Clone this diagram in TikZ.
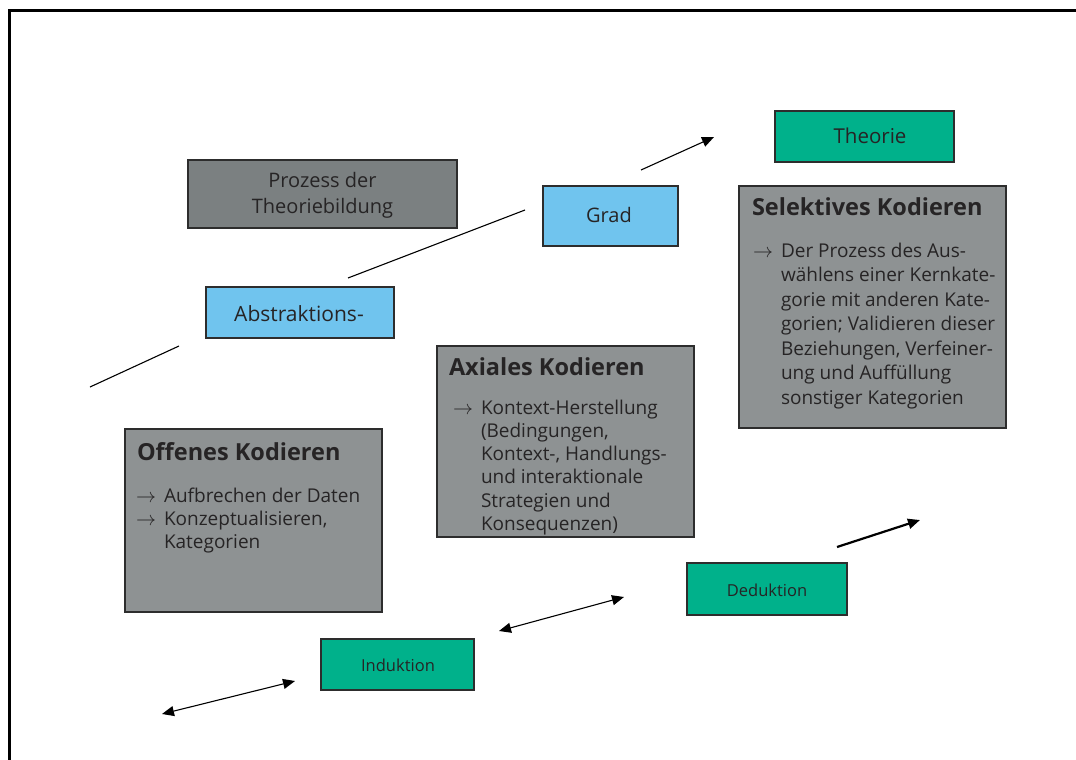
\documentclass[tikz,border=0pt]{standalone}
\usepackage{graphicx}
\usepackage{fontspec}
\setmainfont{Open Sans}
\usetikzlibrary{arrows.meta}

\definecolor{inkgray}{RGB}{38,36,37}
\definecolor{edgegray}{RGB}{45,45,45}
\definecolor{titlegray}{RGB}{123,128,129}
\definecolor{codegray}{RGB}{142,146,147}
\definecolor{skyblue}{RGB}{112,196,238}
\definecolor{tealgreen}{RGB}{0,177,139}

\tikzset{
  panel/.style={draw=edgegray, line width=1.2pt, inner sep=0pt, outer sep=0pt, anchor=north west},
  label/.style={text=inkgray, inner sep=0pt, outer sep=0pt},
  bodytext/.style={label, align=left, font=\fontsize{19}{23.3}\selectfont},
  headtext/.style={label, font=\fontsize{23.5}{27}\selectfont\bfseries},
  thinline/.style={line width=1.1pt, draw=black},
  tip/.style={-{Triangle[length=12pt,width=10pt]}},
  twotip/.style={{Triangle[length=12pt,width=10pt]}-{Triangle[length=12pt,width=10pt]}},
}

% list marker hung to the left of the text block
\newcommand{\bulletarrow}{\llap{\makebox[28pt][l]{\resizebox{20pt}{!}{$\rightarrow$}}}}

\begin{document}
\begin{tikzpicture}[x=1pt,y=-1pt]
\useasboundingbox (0,0) rectangle (1076,760);

% outer frame (left and top edges)
\draw[line width=2.4pt, line cap=rect] (9.5,760) -- (9.5,10.5) -- (1076,10.5);

% title box (multi-line texts are placed by the baseline of their last line)
\node[panel, fill=titlegray, minimum width=269pt, minimum height=68pt] (title) at (188,160) {};
\node[label, align=center, font=\fontsize{20}{26}\selectfont, anchor=base] (titletext) at (322.5,213) {Prozess der\\Theoriebildung};

% abstraction boxes
\node[panel, fill=skyblue, minimum width=188pt, minimum height=51pt] (abs) at (206,287) {};
\node[label, font=\fontsize{21}{24}\selectfont, anchor=base] (abstext) at (299,321) {Abstraktions-};
\node[panel, fill=skyblue, minimum width=135pt, minimum height=60pt] (grad) at (543,186) {};
\node[label, font=\fontsize{20}{24}\selectfont, anchor=base] (gradtext) at (609,222) {Grad};

% theory box
\node[panel, fill=tealgreen, minimum width=179pt, minimum height=51pt] (theo) at (775,111) {};
\node[label, font=\fontsize{20.5}{24}\selectfont, anchor=base] (theotext) at (870,143) {Theorie};

% open coding
\node[panel, fill=codegray, minimum width=257pt, minimum height=183pt] (open) at (125,429) {};
\node[headtext, anchor=base west] (openhead) at (137,460) {Offenes Kodieren};
\node[bodytext, anchor=base west] (openbody) at (164,548.6)
  {\bulletarrow Aufbrechen der Daten\\\bulletarrow Konzeptualisieren,\\Kategorien};

% axial coding
\node[panel, fill=codegray, minimum width=257pt, minimum height=191pt] (axial) at (437,346) {};
\node[headtext, anchor=base west] (axialhead) at (449,375) {Axiales Kodieren};
\node[bodytext, anchor=base west] (axialbody) at (481,530.5)
  {\bulletarrow Kontext-Herstellung\\(Bedingungen,\\Kontext-, Handlungs-\\und interaktionale\\Strategien und\\Konsequenzen)};

% selective coding
\node[panel, fill=codegray, minimum width=267pt, minimum height=242pt] (select) at (739,186) {};
\node[headtext, anchor=base west] (selecthead) at (752,215) {Selektives Kodieren};
\node[bodytext, font=\fontsize{19}{24.5}\selectfont, anchor=base west] (selectbody) at (781,404)
  {\bulletarrow Der Prozess des Aus-\\wählens einer Kernkate-\\gorie mit anderen Kate-\\gorien; Validieren dieser\\Beziehungen, Verfeiner-\\ung und Auffüllung\\sonstiger Kategorien};

% induction and deduction
\node[panel, fill=tealgreen, minimum width=153pt, minimum height=51pt] (ind) at (321,639) {};
\node[label, font=\fontsize{16.5}{20}\selectfont, anchor=base] (indtext) at (398,671) {Induktion};
\node[panel, fill=tealgreen, minimum width=160pt, minimum height=52pt] (ded) at (687,563) {};
\node[label, font=\fontsize{16.5}{20}\selectfont, anchor=base] (dedtext) at (767,596) {Deduktion};

% connector end points
\coordinate (a1) at (90,387);
\coordinate (a2) at (179,346);
\coordinate (b1) at (348,278);
\coordinate (b2) at (525,210);
\coordinate (c1) at (641,170);
\coordinate (c2) at (714,137);
\coordinate (d1) at (162,714);
\coordinate (d2) at (295,681);
\coordinate (e1) at (499,631);
\coordinate (e2) at (624,597);
\coordinate (f1) at (837,547);
\coordinate (f2) at (920,520);

% abstraction axis
\draw[thinline] (a1) -- (a2);
\draw[thinline] (b1) -- (b2);
\draw[thinline, tip] (c1) -- (c2);

% induction / deduction axis
\draw[thinline, twotip] (d1) -- (d2);
\draw[thinline, twotip] (e1) -- (e2);
\draw[line width=2.2pt, tip] (f1) -- (f2);
\end{tikzpicture}
\end{document}
